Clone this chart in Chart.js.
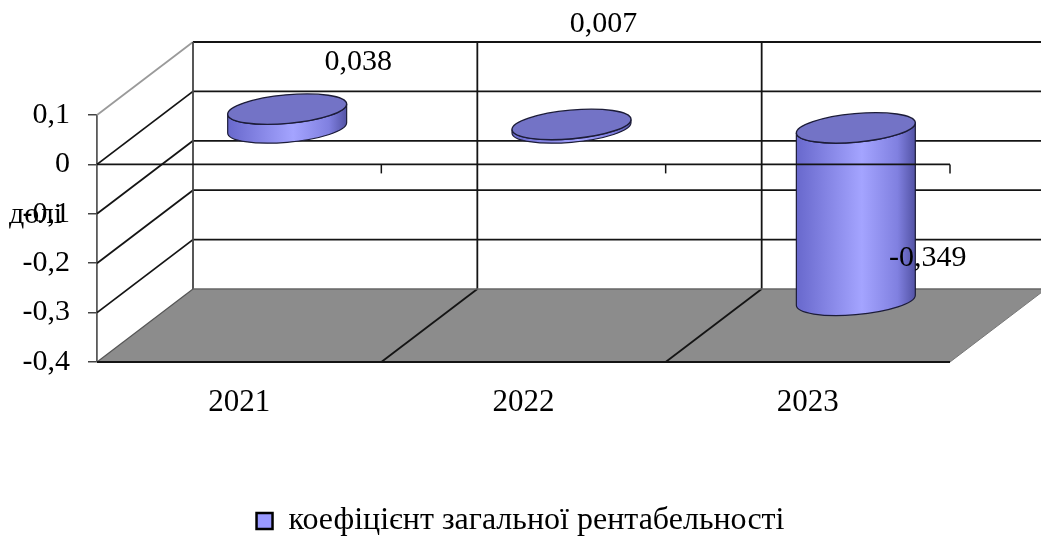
<!DOCTYPE html>
<html>
<head>
<meta charset="utf-8">
<script src="https://cdn.jsdelivr.net/npm/chart.js@4.4.1/dist/chart.umd.min.js"></script>
<style>
  html, body { margin: 0; padding: 0; background: #ffffff; }
  #wrap { width: 1041px; height: 537px; }
</style>
</head>
<body>
<div id="wrap"><canvas id="c"></canvas></div>
<script>
// Data
const years = ['2021', '2022', '2023'];
const ratio = [0.038, 0.007, -0.349];
const ratioText = ['0,038', '0,007', '-0,349'];
const seriesName = 'коефіцієнт загальної рентабельності';
const axisTitle = 'долі';
const yTicks = [0.1, 0, -0.1, -0.2, -0.3, -0.4];
const yTickLabels = ['0,1', '0', '-0,1', '-0,2', '-0,3', '-0,4'];

// 3D box geometry (pixel offset from the front plane to the back wall)
const DEPTH_X = 96;
const DEPTH_Y = -73;
const SERIF = '"Liberation Serif", "Times New Roman", serif';
const INK = '#141414';

// value-label placement relative to the end of each cylinder
const labelShift = [[71, -47], [32, -100], [72, -42]];

function seg(ctx, x1, y1, x2, y2, color, w) {
  ctx.beginPath();
  ctx.moveTo(x1, y1);
  ctx.lineTo(x2, y2);
  ctx.strokeStyle = color;
  ctx.lineWidth = w;
  ctx.stroke();
}

function cylinder(ctx, cx, yTop, yBot, rx, ry, rot) {
  const t0 = Math.atan2(-ry * Math.sin(rot), rx * Math.cos(rot));
  const pt = (cy, t) => [
    cx + rx * Math.cos(t) * Math.cos(rot) - ry * Math.sin(t) * Math.sin(rot),
    cy + rx * Math.cos(t) * Math.sin(rot) + ry * Math.sin(t) * Math.cos(rot)
  ];
  // side
  ctx.beginPath();
  ctx.ellipse(cx, yBot, rx, ry, rot, t0, t0 + Math.PI, false);
  const tl = pt(yTop, t0 + Math.PI);
  ctx.lineTo(tl[0], tl[1]);
  ctx.ellipse(cx, yTop, rx, ry, rot, t0 + Math.PI, t0, true);
  ctx.closePath();
  const g = ctx.createLinearGradient(cx - rx, 0, cx + rx, 0);
  g.addColorStop(0, '#6868cc');
  g.addColorStop(0.55, '#a4a4ff');
  g.addColorStop(0.85, '#8080e0');
  g.addColorStop(1, '#5252a4');
  ctx.fillStyle = g;
  ctx.fill();
  ctx.strokeStyle = '#1c1c38';
  ctx.lineWidth = 1.2;
  ctx.stroke();
  // cap
  ctx.beginPath();
  ctx.ellipse(cx, yTop, rx, ry, rot, 0, Math.PI * 2);
  ctx.fillStyle = '#7373c6';
  ctx.fill();
  ctx.strokeStyle = '#1c1c38';
  ctx.lineWidth = 1.4;
  ctx.stroke();
}

const scene3d = {
  id: 'scene3d',
  beforeDatasetsDraw(chart) {
    const ctx = chart.ctx;
    const xs = chart.scales.x, ys = chart.scales.y, a = chart.chartArea;
    const L = a.left, R = a.right;
    const yTop = ys.getPixelForValue(yTicks[0]);
    const yBot = ys.getPixelForValue(yTicks[yTicks.length - 1]);
    const y0 = ys.getPixelForValue(0);
    const half = (xs.getPixelForValue(1) - xs.getPixelForValue(0)) / 2;
    ctx.save();

    // floor
    ctx.beginPath();
    ctx.moveTo(L, yBot);
    ctx.lineTo(R, yBot);
    ctx.lineTo(R + DEPTH_X, yBot + DEPTH_Y);
    ctx.lineTo(L + DEPTH_X, yBot + DEPTH_Y);
    ctx.closePath();
    ctx.fillStyle = '#8c8c8c';
    ctx.fill();
    seg(ctx, R, yBot, R + DEPTH_X, yBot + DEPTH_Y, '#777', 1);
    for (let i = 0; i < years.length - 1; i++) {
      const bx = xs.getPixelForValue(i) + half;
      seg(ctx, bx, yBot, bx + DEPTH_X, yBot + DEPTH_Y, INK, 1.8);
    }

    // back wall and side wall gridlines
    yTicks.forEach((v, k) => {
      if (k === yTicks.length - 1) return;
      const py = ys.getPixelForValue(v);
      seg(ctx, L + DEPTH_X, py + DEPTH_Y, R + DEPTH_X, py + DEPTH_Y, INK, 1.8);
      seg(ctx, L, py, L + DEPTH_X, py + DEPTH_Y, k === 0 ? '#9a9a9a' : INK, 1.8);
    });
    for (let i = 0; i < years.length; i++) {
      const bx = L + DEPTH_X + i * 2 * half;
      seg(ctx, bx, yTop + DEPTH_Y, bx, yBot + DEPTH_Y, i === 0 ? '#444' : INK, 1.8);
    }
    seg(ctx, L + DEPTH_X, yBot + DEPTH_Y, R + DEPTH_X, yBot + DEPTH_Y, '#666', 1.4);
    seg(ctx, L, yBot, L + DEPTH_X, yBot + DEPTH_Y, '#555', 1.2);
    seg(ctx, L, yBot, R, yBot, INK, 2);

    // cylinders, placed halfway into the depth of the box
    const meta = chart.getDatasetMeta(0);
    meta.data.forEach((bar, i) => {
      const v = ratio[i];
      const cx = bar.x + DEPTH_X / 2;
      const pv = ys.getPixelForValue(v) + DEPTH_Y / 2;
      const pz = y0 + DEPTH_Y / 2;
      const rx = bar.width / 2;
      cylinder(ctx, cx, Math.min(pv, pz), Math.max(pv, pz), rx, rx * 0.24, -0.09);
    });

    // category axis at zero on the front plane
    seg(ctx, L, y0, R, y0, INK, 1.8);
    for (let i = 0; i < years.length; i++) {
      const bx = xs.getPixelForValue(i) + half;
      seg(ctx, bx, y0, bx, y0 + 9, INK, 1.5);
    }

    // value labels
    ctx.fillStyle = '#000';
    ctx.font = '30px ' + SERIF;
    ctx.textAlign = 'center';
    ctx.textBaseline = 'middle';
    meta.data.forEach((bar, i) => {
      const cx = bar.x + DEPTH_X / 2;
      const pv = ys.getPixelForValue(ratio[i]) + DEPTH_Y / 2;
      ctx.fillText(ratioText[i], cx + labelShift[i][0], pv + labelShift[i][1]);
    });

    // value axis title
    ctx.textAlign = 'left';
    ctx.fillText(axisTitle, 9, ys.getPixelForValue(-0.1) + 1);

    ctx.restore();
    return false;
  }
};

new Chart(document.getElementById('c'), {
  type: 'bar',
  data: {
    labels: years,
    datasets: [{
      label: seriesName,
      data: ratio,
      backgroundColor: '#9999ff',
      borderColor: '#000000',
      borderWidth: 2.5,
      categoryPercentage: 0.7,
      barPercentage: 0.6
    }]
  },
  options: {
    responsive: true,
    maintainAspectRatio: false,
    animation: false,
    devicePixelRatio: 1,
    layout: { padding: { top: 115, right: 0, left: 0, bottom: -10 } },
    plugins: {
      tooltip: { enabled: false },
      legend: {
        position: 'bottom',
        labels: {
          color: '#000',
          font: { family: SERIF, size: 32 },
          boxWidth: 16,
          boxHeight: 16,
          padding: 0
        }
      }
    },
    scales: {
      x: {
        grid: { display: false, drawTicks: false },
        border: { display: false },
        ticks: { color: '#000', font: { family: SERIF, size: 31 }, padding: 22 },
        afterFit: s => { s.height = 143; }
      },
      y: {
        min: -0.4,
        max: 0.1,
        ticks: {
          stepSize: 0.1,
          color: '#000',
          font: { family: SERIF, size: 30 },
          padding: 18,
          callback: v => {
            const k = yTicks.findIndex(t => Math.abs(t - v) < 1e-6);
            return k >= 0 ? yTickLabels[k] : '';
          }
        },
        grid: { drawOnChartArea: false, tickLength: 9, color: '#444', lineWidth: 1.5 },
        border: { display: true, color: '#5a5a5a', width: 1.8 },
        afterFit: s => { s.width = 97; }
      },
      // room on the right for the receding side of the box
      depth: {
        type: 'linear',
        position: 'right',
        display: true,
        ticks: { display: false },
        grid: { display: false },
        border: { display: false },
        afterFit: s => { s.width = 91; }
      }
    }
  },
  plugins: [scene3d]
});
</script>
</body>
</html>
